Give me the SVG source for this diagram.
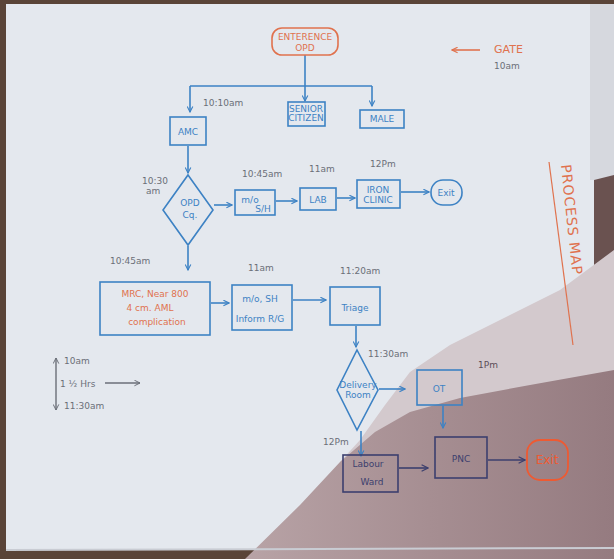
<svg xmlns="http://www.w3.org/2000/svg" width="614" height="559" viewBox="0 0 614 559">
<defs>
<marker id="ab" viewBox="0 0 10 10" refX="9" refY="5" markerWidth="7" markerHeight="7" orient="auto" markerUnits="userSpaceOnUse">
<path d="M1,1 L9,5 L1,9" fill="none" stroke="#3d82c4" stroke-width="1.6"/>
</marker>
<marker id="ad" viewBox="0 0 10 10" refX="9" refY="5" markerWidth="8" markerHeight="8" orient="auto" markerUnits="userSpaceOnUse">
<path d="M1,1 L9,5 L1,9" fill="none" stroke="#3c3f6e" stroke-width="1.6"/>
</marker>
<marker id="ag" viewBox="0 0 10 10" refX="9" refY="5" markerWidth="7" markerHeight="7" orient="auto" markerUnits="userSpaceOnUse">
<path d="M1,1 L9,5 L1,9" fill="none" stroke="#6b6f78" stroke-width="1.4"/>
</marker>
<marker id="ao" viewBox="0 0 10 10" refX="9" refY="5" markerWidth="7" markerHeight="7" orient="auto" markerUnits="userSpaceOnUse">
<path d="M1,1 L9,5 L1,9" fill="none" stroke="#e0724e" stroke-width="1.6"/>
</marker>
<linearGradient id="sh" x1="0" y1="0" x2="1" y2="0">
<stop offset="0" stop-color="#b8a3a6"/>
<stop offset="0.5" stop-color="#a68e92"/>
<stop offset="1" stop-color="#957b80"/>
</linearGradient>
<style>
.b{fill:none;stroke:#3d82c4;stroke-width:1.6}
.d{fill:none;stroke:#3c3f6e;stroke-width:1.6}
.o{fill:none;stroke:#e0724e;stroke-width:1.6}
.cb{fill:none;stroke:#3d82c4;stroke-width:1.6;marker-end:url(#ab)}
.cd{fill:none;stroke:#3c3f6e;stroke-width:1.6;marker-end:url(#ad)}
.tb{font-family:"DejaVu Sans",sans-serif;fill:#3d82c4;font-size:9px;text-anchor:middle}
.td{font-family:"DejaVu Sans",sans-serif;fill:#3c3f6e;font-size:9px;text-anchor:middle}
.to{font-family:"DejaVu Sans",sans-serif;fill:#e0724e;font-size:9px;text-anchor:middle}
.tg{font-family:"DejaVu Sans",sans-serif;fill:#6b6f78;font-size:9px}
</style>
</defs>
<rect x="0" y="0" width="614" height="559" fill="#5a4438"/>
<rect x="6" y="4" width="588" height="546" fill="#e4e8ee"/>
<polygon points="590,4 614,4 614,180 590,180" fill="#d6d8de"/>
<polygon points="594,180 614,175 614,420 594,420" fill="#6a5250"/>
<polygon points="614,250 560,290 500,320 450,345 410,372 385,405 360,440 340,462 614,462" fill="#d3c9cd"/>
<polygon points="245,559 300,505 340,462 375,432 410,412 460,398 530,385 614,370 614,559" fill="url(#sh)"/>
<line x1="6" y1="550" x2="614" y2="548" stroke="#c9ccd3" stroke-width="2"/>

<g id="title">
<text x="0" y="0" transform="translate(561,165) rotate(84)" font-family="DejaVu Sans,sans-serif" font-size="14" fill="#e0724e" letter-spacing="1">PROCESS MAP</text>
<line x1="549" y1="162" x2="573" y2="345" stroke="#e0724e" stroke-width="1.2"/>
</g>

<g id="connectors">
<line class="b" x1="305" y1="55" x2="305" y2="86"/>
<line class="b" x1="190" y1="86" x2="372" y2="86"/>
<line class="cb" x1="190" y1="86" x2="190" y2="112"/>
<line class="cb" x1="305" y1="86" x2="305" y2="101"/>
<line class="cb" x1="372" y1="86" x2="372" y2="106"/>
<line class="cb" x1="188" y1="146" x2="188" y2="173"/>
<line class="cb" x1="214" y1="205" x2="232" y2="205"/>
<line class="cb" x1="276" y1="201" x2="297" y2="201"/>
<line class="cb" x1="337" y1="198" x2="355" y2="198"/>
<line class="cb" x1="401" y1="192" x2="429" y2="192"/>
<line class="cb" x1="188" y1="246" x2="188" y2="270"/>
<line class="cb" x1="211" y1="303" x2="229" y2="303"/>
<line class="cb" x1="293" y1="300" x2="326" y2="300"/>
<line class="cb" x1="356" y1="326" x2="356" y2="347"/>
<line class="cb" x1="379" y1="389" x2="405" y2="389"/>
<line class="cb" x1="443" y1="406" x2="443" y2="428"/>
<line class="cb" x1="361" y1="431" x2="361" y2="456"/>
<line class="cd" x1="399" y1="468" x2="428" y2="468"/>
<line class="cd" x1="488" y1="460" x2="525" y2="460"/>
<line x1="480" y1="50" x2="452" y2="50" stroke="#e0724e" stroke-width="1.6" marker-end="url(#ao)"/>
<line x1="105" y1="383" x2="140" y2="383" stroke="#6b6f78" stroke-width="1.4" marker-end="url(#ag)"/>
<line x1="56" y1="384" x2="56" y2="358" stroke="#6b6f78" stroke-width="1.4" marker-end="url(#ag)"/>
<line x1="56" y1="384" x2="56" y2="410" stroke="#6b6f78" stroke-width="1.4" marker-end="url(#ag)"/>
</g>

<g id="n-entrance"><rect class="o" x="272" y="28" width="66" height="27" rx="10"/><text class="to" x="305" y="40" font-size="8">ENTERENCE</text><text class="to" x="305" y="51" font-size="8">OPD</text></g>
<g id="n-gate"><text x="494" y="53" font-family="DejaVu Sans,sans-serif" font-size="11" fill="#e0724e">GATE</text><text class="tg" x="494" y="69">10am</text></g>
<g id="n-amc"><rect class="b" x="170" y="117" width="36" height="28"/><text class="tb" x="188" y="135" font-size="10">AMC</text><text class="tg" x="203" y="106">10:10am</text></g>
<g id="n-senior"><rect class="b" x="288" y="102" width="37" height="24"/><text class="tb" x="306" y="112" font-size="6">SENIOR</text><text class="tb" x="306" y="121" font-size="6">CITIZEN</text></g>
<g id="n-male"><rect class="b" x="360" y="110" width="44" height="18"/><text class="tb" x="382" y="122" font-size="8">MALE</text></g>
<g id="n-opd"><polygon class="b" points="188,175 213,210 188,245 163,210"/><text class="tb" x="190" y="206">OPD</text><text class="tb" x="190" y="218">Cq.</text><text class="tg" x="142" y="184">10:30</text><text class="tg" x="146" y="194">am</text></g>
<g id="n-mo"><rect class="b" x="235" y="190" width="40" height="25"/><text class="tb" x="250" y="203">m/o</text><text class="tb" x="263" y="212" font-size="6">S/H</text><text class="tg" x="242" y="177">10:45am</text></g>
<g id="n-lab"><rect class="b" x="300" y="188" width="36" height="22"/><text class="tb" x="318" y="203">LAB</text><text class="tg" x="309" y="172">11am</text></g>
<g id="n-iron"><rect class="b" x="357" y="180" width="43" height="28"/><text class="tb" x="378" y="193" font-size="8">IRON</text><text class="tb" x="378" y="203" font-size="8">CLINIC</text><text class="tg" x="370" y="167">12Pm</text></g>
<g id="n-exit1"><rect class="b" x="431" y="180" width="31" height="25" rx="12"/><text class="tb" x="446" y="196">Exit</text></g>
<g id="n-mrc"><rect class="b" x="100" y="282" width="110" height="53"/><text class="to" x="155" y="297">MRC, Near 800</text><text class="to" x="150" y="311">4 cm. AML</text><text class="to" x="157" y="325">complication</text><text class="tg" x="110" y="264">10:45am</text></g>
<g id="n-inform"><rect class="b" x="232" y="285" width="60" height="45"/><text class="tb" x="260" y="302" font-size="8.5">m/o, SH</text><text class="tb" x="260" y="322" font-size="8.5">Inform R/G</text><text class="tg" x="248" y="271">11am</text></g>
<g id="n-triage"><rect class="b" x="330" y="287" width="50" height="38"/><text class="tb" x="355" y="311" font-size="10">Triage</text><text class="tg" x="340" y="274">11:20am</text></g>
<g id="n-delivery"><polygon class="b" points="357,350 378,390 357,430 337,390"/><text class="tb" x="358" y="388" font-size="6.5">Delivery</text><text class="tb" x="358" y="398" font-size="6.5">Room</text><text class="tg" x="368" y="357">11:30am</text></g>
<g id="n-ot"><rect class="b" x="417" y="370" width="45" height="35"/><text class="tb" x="439" y="392" font-size="11">OT</text><text x="478" y="368" font-family="DejaVu Sans,sans-serif" font-size="9" fill="#5b4d57">1Pm</text></g>
<g id="n-labour"><rect class="d" x="343" y="455" width="55" height="37"/><text class="td" x="368" y="467" font-size="8">Labour</text><text class="td" x="372" y="485" font-size="8">Ward</text><text x="323" y="445" font-family="DejaVu Sans,sans-serif" font-size="9" fill="#6b6f78">12Pm</text></g>
<g id="n-pnc"><rect class="d" x="435" y="437" width="52" height="41"/><text class="td" x="461" y="462" font-size="10">PNC</text></g>
<g id="n-exit2"><rect x="527" y="440" width="41" height="40" rx="13" fill="none" stroke="#ee5a32" stroke-width="1.8"/><text x="547" y="464" font-family="DejaVu Sans,sans-serif" font-size="12" fill="#ee5a32" text-anchor="middle">Exit</text></g>
<g id="n-duration"><text class="tg" x="64" y="364">10am</text><text class="tg" x="60" y="387">1 ½ Hrs</text><text class="tg" x="64" y="409">11:30am</text></g>
</svg>
